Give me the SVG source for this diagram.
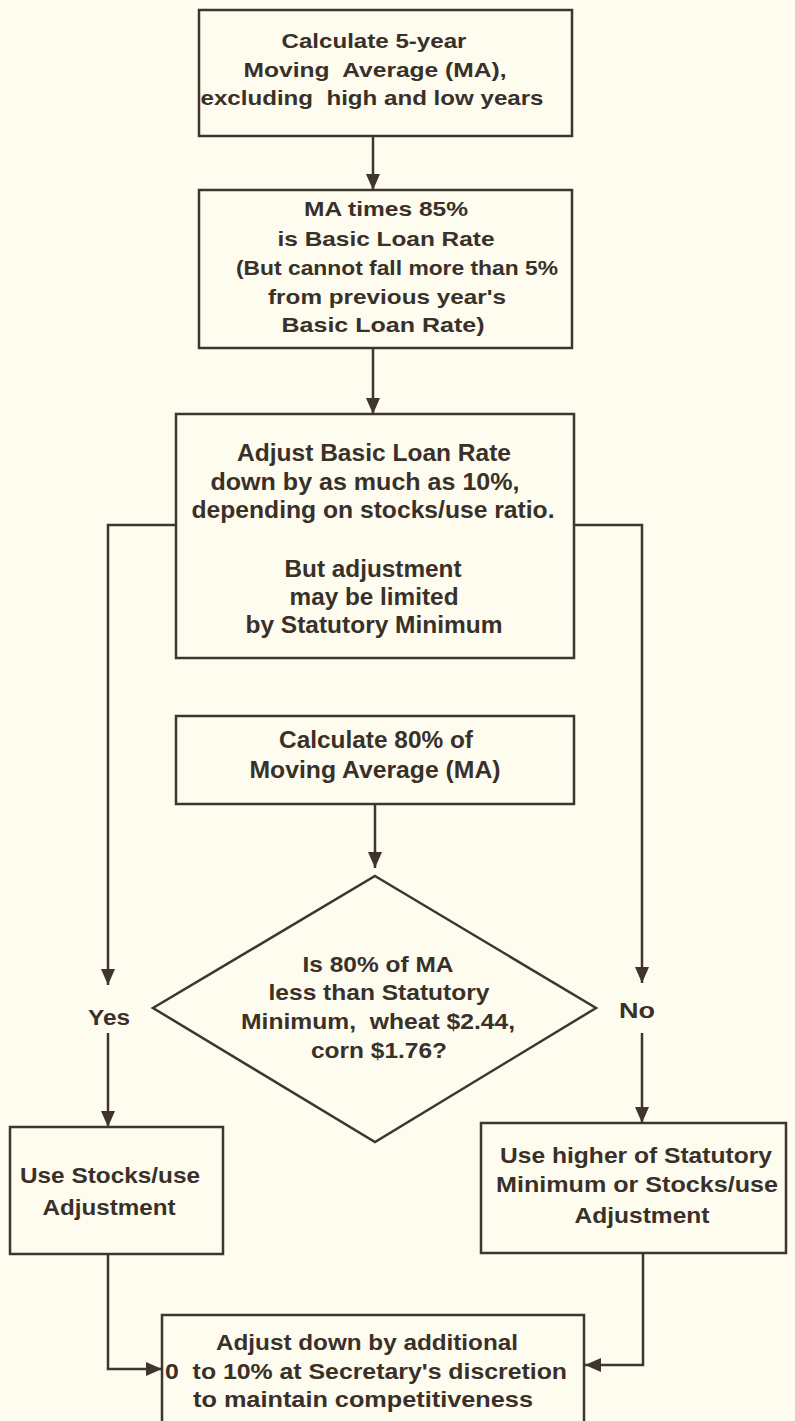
<svg xmlns="http://www.w3.org/2000/svg" width="795" height="1421" viewBox="0 0 795 1421">
<style>
.bg{fill:#fdfcee}
.box{fill:none;stroke:#3f342e;stroke-width:2.5}
.con{fill:none;stroke:#3f342e;stroke-width:2.5}
text{font-family:"Liberation Sans",Arial,Helvetica,sans-serif;font-weight:bold;fill:#3a302a;text-anchor:middle}
.s21{font-size:21px}
.s22{font-size:22px}
.s23{font-size:23px}
</style>
<defs>
<marker id="arr" viewBox="0 0 16 14" refX="16" refY="7" markerWidth="16" markerHeight="14" markerUnits="userSpaceOnUse" orient="auto">
<path d="M0,0 L16,7 L0,14 Z" fill="#3f342e"/>
</marker>
</defs>
<rect class="bg" x="0" y="0" width="795" height="1421"/>

<g id="connectors">
<path class="con" d="M373,136 V190" marker-end="url(#arr)"/>
<path class="con" d="M373,348 V414" marker-end="url(#arr)"/>
<path class="con" d="M176,525 H108 V985" marker-end="url(#arr)"/>
<path class="con" d="M108,1033 V1127" marker-end="url(#arr)"/>
<path class="con" d="M574,525 H642 V983" marker-end="url(#arr)"/>
<path class="con" d="M642,1033 V1123" marker-end="url(#arr)"/>
<path class="con" d="M375,804 V868" marker-end="url(#arr)"/>
<path class="con" d="M108,1254 V1369 H162" marker-end="url(#arr)"/>
<path class="con" d="M643,1253 V1365 H585" marker-end="url(#arr)"/>
</g>

<g id="n1">
<rect class="box" x="199" y="10" width="373" height="126"/>
<text class="s21" x="374" y="48" textLength="185" lengthAdjust="spacingAndGlyphs">Calculate 5-year</text>
<text class="s21" x="375" y="77" textLength="263" lengthAdjust="spacingAndGlyphs">Moving&#160; Average (MA),</text>
<text class="s21" x="372" y="105" textLength="343" lengthAdjust="spacingAndGlyphs">excluding&#160; high and low years</text>
</g>

<g id="n2">
<rect class="box" x="199" y="190" width="373" height="158"/>
<text class="s21" x="386" y="216" textLength="164" lengthAdjust="spacingAndGlyphs">MA times 85%</text>
<text class="s21" x="386" y="246" textLength="217" lengthAdjust="spacingAndGlyphs">is Basic Loan Rate</text>
<text class="s21" x="397" y="275" textLength="322" lengthAdjust="spacingAndGlyphs">(But cannot fall more than 5%</text>
<text class="s21" x="387" y="304" textLength="238" lengthAdjust="spacingAndGlyphs">from previous year's</text>
<text class="s21" x="383" y="332" textLength="203" lengthAdjust="spacingAndGlyphs">Basic Loan Rate)</text>
</g>

<g id="n3">
<rect class="box" x="176" y="414" width="398" height="244"/>
<text class="s23" x="374" y="461" textLength="274" lengthAdjust="spacingAndGlyphs">Adjust Basic Loan Rate</text>
<text class="s23" x="365" y="490" textLength="309" lengthAdjust="spacingAndGlyphs">down by as much as 10%,</text>
<text class="s23" x="373" y="518" textLength="363" lengthAdjust="spacingAndGlyphs">depending on stocks/use ratio.</text>
<text class="s23" x="373" y="577" textLength="177" lengthAdjust="spacingAndGlyphs">But adjustment</text>
<text class="s23" x="374" y="605" textLength="169" lengthAdjust="spacingAndGlyphs">may be limited</text>
<text class="s23" x="374" y="633" textLength="257" lengthAdjust="spacingAndGlyphs">by Statutory Minimum</text>
</g>

<g id="n4">
<rect class="box" x="176" y="716" width="398" height="88"/>
<text class="s23" x="376" y="748" textLength="194" lengthAdjust="spacingAndGlyphs">Calculate 80% of</text>
<text class="s23" x="375" y="778" textLength="251" lengthAdjust="spacingAndGlyphs">Moving Average (MA)</text>
</g>

<g id="n5">
<polygon class="box" points="375,876 596,1008 375,1142 153,1008"/>
<text class="s22" x="378" y="972" textLength="151" lengthAdjust="spacingAndGlyphs">Is 80% of MA</text>
<text class="s22" x="379" y="1000" textLength="221" lengthAdjust="spacingAndGlyphs">less than Statutory</text>
<text class="s22" x="378" y="1029" textLength="274" lengthAdjust="spacingAndGlyphs">Minimum,&#160; wheat $2.44,</text>
<text class="s22" x="379" y="1058" textLength="136" lengthAdjust="spacingAndGlyphs">corn $1.76?</text>
</g>

<g id="lbl-yes">
<text class="s22" x="109" y="1025" textLength="42" lengthAdjust="spacingAndGlyphs">Yes</text>
</g>
<g id="lbl-no">
<text class="s22" x="637" y="1018" textLength="36" lengthAdjust="spacingAndGlyphs">No</text>
</g>

<g id="n6">
<rect class="box" x="10" y="1127" width="213" height="127"/>
<text class="s22" x="110" y="1183" textLength="180" lengthAdjust="spacingAndGlyphs">Use Stocks/use</text>
<text class="s22" x="109" y="1215" textLength="133" lengthAdjust="spacingAndGlyphs">Adjustment</text>
</g>

<g id="n7">
<rect class="box" x="481" y="1123" width="305" height="130"/>
<text class="s22" x="636" y="1163" textLength="272" lengthAdjust="spacingAndGlyphs">Use higher of Statutory</text>
<text class="s22" x="637" y="1192" textLength="282" lengthAdjust="spacingAndGlyphs">Minimum or Stocks/use</text>
<text class="s22" x="642" y="1223" textLength="135" lengthAdjust="spacingAndGlyphs">Adjustment</text>
</g>

<g id="n8">
<rect class="box" x="162" y="1315" width="422" height="120"/>
<text class="s22" x="367" y="1350" textLength="302" lengthAdjust="spacingAndGlyphs">Adjust down by additional</text>
<text class="s22" x="366" y="1379" textLength="402" lengthAdjust="spacingAndGlyphs">0&#160; to 10% at Secretary's discretion</text>
<text class="s22" x="363" y="1407" textLength="340" lengthAdjust="spacingAndGlyphs">to maintain competitiveness</text>
</g>
</svg>
